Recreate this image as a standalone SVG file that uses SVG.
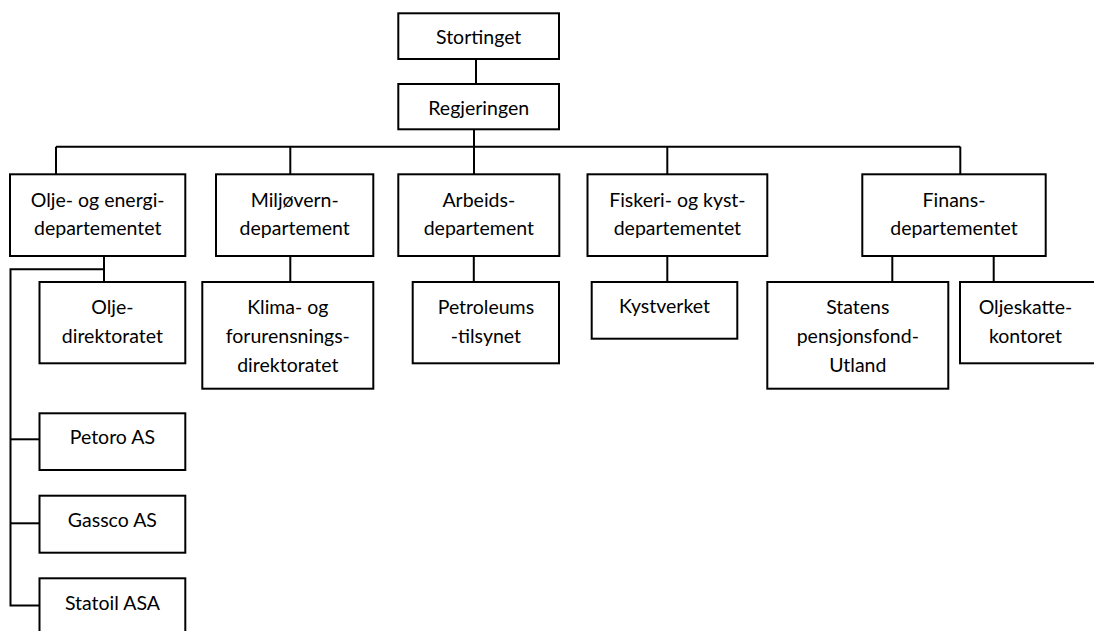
<svg xmlns="http://www.w3.org/2000/svg" width="1094" height="631" viewBox="0 0 1094 631">
<style>
  .box { fill: #ffffff; stroke: #000000; stroke-width: 2; }
  .ln { fill: none; stroke: #000000; stroke-width: 2; }
  text { font-family: Lato, "Liberation Sans", sans-serif; font-size: 19.5px; fill: #000000; text-anchor: middle; }
</style>
<rect x="0" y="0" width="1094" height="631" fill="#ffffff"/>
<g id="connectors">
  <path class="ln" d="M476,59 V84"/>
  <path class="ln" d="M474,129.3 V146.7"/>
  <path class="ln" d="M56,146.7 H960.3"/>
  <path class="ln" d="M56,146.7 V174.3"/>
  <path class="ln" d="M290.3,146.7 V174.3"/>
  <path class="ln" d="M474,146.7 V174.3"/>
  <path class="ln" d="M667.3,146.7 V174.3"/>
  <path class="ln" d="M960.3,146.7 V174.3"/>
  <path class="ln" d="M104,256 V282"/>
  <path class="ln" d="M104,269.3 H10.5 V605.5 H39.5"/>
  <path class="ln" d="M10.5,439.3 H39.5"/>
  <path class="ln" d="M10.5,523.3 H39.5"/>
  <path class="ln" d="M290.3,256 V282"/>
  <path class="ln" d="M473.8,256 V282"/>
  <path class="ln" d="M667.3,256 V282"/>
  <path class="ln" d="M892.3,256 V282"/>
  <path class="ln" d="M993.7,256 V282"/>
</g>
<g id="stortinget"><rect class="box" x="398.3" y="13.3" width="160.7" height="45.7"/><text x="478.7" y="44.3">Stortinget</text></g>
<g id="regjeringen"><rect class="box" x="398.3" y="84" width="160.7" height="45.3"/><text x="478.7" y="115">Regjeringen</text></g>
<g id="olje-energi"><rect class="box" x="10" y="174.3" width="175.3" height="81.7"/><text x="97.7" y="206.7">Olje- og energi-</text><text x="97.7" y="235.3">departementet</text></g>
<g id="miljovern"><rect class="box" x="216" y="174.3" width="157.3" height="81.7"/><text x="294.7" y="206.7">Miljøvern-</text><text x="294.7" y="235.3">departement</text></g>
<g id="arbeids"><rect class="box" x="398.3" y="174.3" width="161" height="81.7"/><text x="478.8" y="206.7">Arbeids-</text><text x="478.8" y="235.3">departement</text></g>
<g id="fiskeri"><rect class="box" x="587.5" y="174.3" width="179.8" height="81.7"/><text x="677.4" y="206.7">Fiskeri- og kyst-</text><text x="677.4" y="235.3">departementet</text></g>
<g id="finans"><rect class="box" x="862.3" y="174.3" width="183.4" height="81.7"/><text x="954" y="206.7">Finans-</text><text x="954" y="235.3">departementet</text></g>
<g id="oljedirektoratet"><rect class="box" x="39.5" y="282" width="145.8" height="81.3"/><text x="112.4" y="314.4">Olje-</text><text x="112.4" y="343">direktoratet</text></g>
<g id="klima"><rect class="box" x="202.3" y="282" width="171" height="106.7"/><text x="287.8" y="314.4">Klima- og</text><text x="287.8" y="343">forurensnings-</text><text x="287.8" y="371.6">direktoratet</text></g>
<g id="petroleumstilsynet"><rect class="box" x="412.7" y="282" width="146.3" height="81.3"/><text x="485.9" y="314.4">Petroleums</text><text x="485.9" y="343">-tilsynet</text></g>
<g id="kystverket"><rect class="box" x="591.7" y="282" width="145.6" height="56.7"/><text x="664.5" y="312.7">Kystverket</text></g>
<g id="statens-pensjonsfond"><rect class="box" x="767.3" y="282" width="181" height="106.7"/><text x="857.8" y="314.4">Statens</text><text x="857.8" y="343">pensjonsfond-</text><text x="857.8" y="371.6">Utland</text></g>
<g id="oljeskattekontoret"><rect class="box" x="960" y="282" width="150" height="81.3"/><text x="1025.5" y="314.4">Oljeskatte-</text><text x="1025.5" y="343">kontoret</text></g>
<g id="petoro"><rect class="box" x="39.5" y="413.3" width="145.8" height="56.7"/><text x="112.4" y="443.5">Petoro AS</text></g>
<g id="gassco"><rect class="box" x="39.5" y="495.7" width="145.8" height="57"/><text x="112.4" y="526.5">Gassco AS</text></g>
<g id="statoil"><rect class="box" x="39.5" y="578.3" width="145.8" height="80"/><text x="112.4" y="610">Statoil ASA</text></g>
</svg>
